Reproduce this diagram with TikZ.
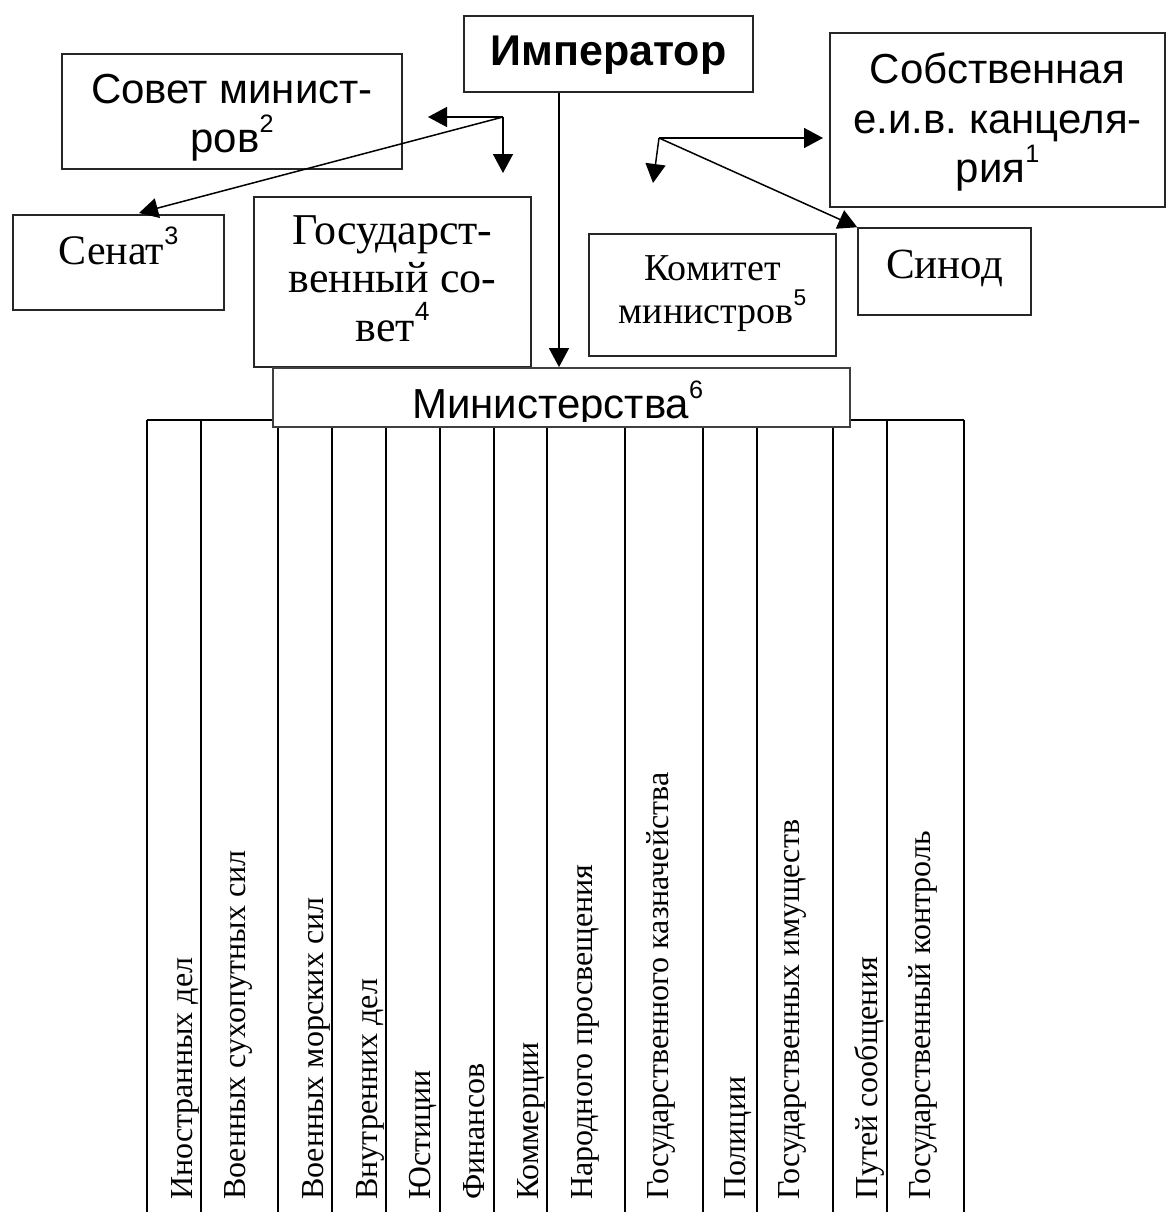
\documentclass[tikz,border=0pt]{standalone}
\usepackage{fontspec}
\setmainfont{Liberation Serif}
\setsansfont{Liberation Sans}
\usetikzlibrary{arrows.meta}
\frenchspacing
\newcommand\supn[1]{\raisebox{0.47em}{\sffamily\scalebox{0.6}{#1}}}
% top-aligned text block: width, height, first-baseline offset, text
\newcommand\tbox[4]{\parbox[c][#2][t]{#1}{\centering\frenchspacing\rule{0pt}{#3}#4}}
\begin{document}
\begin{tikzpicture}[x=1pt,y=-1pt,
  bx/.style={draw=black!85, line width=1.5pt, fill=white, inner sep=0pt},
  arr/.style={line width=1.5pt, -{Triangle[length=19pt,width=20pt]}},
  gridln/.style={line width=2.6pt, black},
  coltext/.style={rotate=90, anchor=base west, inner sep=0pt,
    font=\rmfamily\fontsize{32}{36}\selectfont}]
\useasboundingbox (0,0) rectangle (1169,1212);
% grid of ministries
\draw[gridln] (147,420) -- (964,420);
\foreach \xx in {147,201,278,332,386,440,494,547,625,703,757,833,887,964}
  \draw[gridln] (\xx,420) -- (\xx,1212);
\node[coltext] (c1)  at (192,1200) {Иностранных дел};
\node[coltext] (c2)  at (245,1200) {Военных сухопутных сил};
\node[coltext] (c3)  at (323,1200) {Военных морских сил};
\node[coltext] (c4)  at (377,1200) {Внутренних дел};
\node[coltext] (c5)  at (430,1200) {Юстиции};
\node[coltext] (c6)  at (484,1200) {Финансов};
\node[coltext] (c7)  at (538,1200) {Коммерции};
\node[coltext] (c8)  at (592,1200) {Народного просвещения};
\node[coltext] (c9)  at (668,1200) {Государственного казначейства};
\node[coltext] (c10) at (745,1200) {Полиции};
\node[coltext] (c11) at (799,1200) {Государственных имуществ};
\node[coltext] (c12) at (877,1200) {Путей сообщения};
\node[coltext] (c13) at (930,1200) {Государственный контроль};
% upper boxes
\node[bx, font=\sffamily\bfseries\fontsize{43}{48}\selectfont] (imp) at (608.5,54)
  {\tbox{289pt}{76pt}{50pt}{Император}};
\node[bx, font=\sffamily\fontsize{42}{48}\selectfont] (sovet) at (232,111.5)
  {\tbox{340pt}{115pt}{50pt}{Совет минист-\\ров\supn{2}}};
\node[bx, font=\rmfamily\fontsize{42}{48}\selectfont] (senat) at (118.5,262.5)
  {\tbox{211pt}{95pt}{49pt}{Сенат\supn{3}}};
\node[bx, font=\rmfamily\fontsize{44}{48.5}\selectfont] (gos) at (392.5,282)
  {\tbox{277pt}{170pt}{47pt}{Государст-\\венный со-\\вет\supn{4}}};
\node[bx, font=\rmfamily\fontsize{38}{43}\selectfont] (kom) at (712.5,295)
  {\tbox{247pt}{122pt}{46pt}{Комитет\\министров\supn{5}}};
\node[bx, font=\rmfamily\fontsize{43}{48}\selectfont] (sinod) at (944.5,271.5)
  {\tbox{173pt}{87pt}{50pt}{Синод}};
\node[bx, font=\sffamily\fontsize{42}{49}\selectfont] (sob) at (997.5,120)
  {\tbox{335pt}{174pt}{51pt}{Собственная\\е.и.в. канцеля-\\рия\supn{1}}};
\node[bx, draw=black!75, line width=1.8pt, minimum width=577, minimum height=59] (min) at (561.5,397.5) {};
\begin{scope}
  \clip (273,368) rectangle (850,421);
  \node[inner sep=0pt, anchor=base west, font=\sffamily\fontsize{42}{48}\selectfont] (mintext) at (412,418) {Министерства\supn{6}};
\end{scope}
% connectors
\coordinate (j1) at (503,117);
\coordinate (j1l) at (428,117);
\coordinate (j1d) at (503,173);
\coordinate (sentip) at (139,213);
\coordinate (j2) at (659,138);
\coordinate (j2r) at (823,138);
\coordinate (j2d) at (653,183);
\coordinate (vl) at (559,0);
\draw[arr] (j1) -- (j1l);
\draw[arr] (j1) -- (j1d);
\draw[arr] (j1) -- (sentip);
\draw[arr] (j2) -- (j2r);
\draw[arr] (j2) -- (j2d);
\draw[arr] (j2) -- (sinod.north west);
\draw[arr] (imp.south -| vl) -- (min.north -| vl);
\end{tikzpicture}
\end{document}
